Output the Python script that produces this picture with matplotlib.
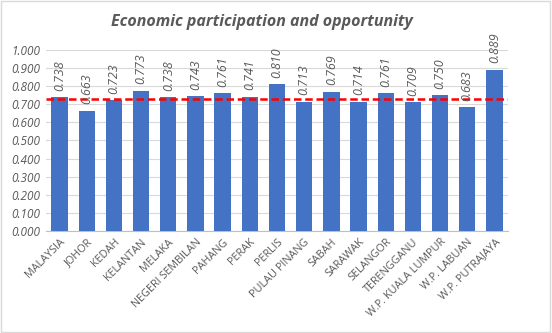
import matplotlib
matplotlib.use("Agg")
import matplotlib.pyplot as plt
from matplotlib.patches import Rectangle

categories = ["MALAYSIA", "JOHOR", "KEDAH", "KELANTAN", "MELAKA", "NEGERI SEMBILAN",
              "PAHANG", "PERAK", "PERLIS", "PULAU PINANG", "SABAH", "SARAWAK",
              "SELANGOR", "TERENGGANU", "W.P. KUALA LUMPUR", "W.P. LABUAN", "W.P. PUTRAJAYA"]
values = [0.738, 0.663, 0.723, 0.773, 0.738, 0.743, 0.761, 0.741, 0.810, 0.713,
          0.769, 0.714, 0.761, 0.709, 0.750, 0.683, 0.889]
ref_value = 0.730
yticks = [0.0, 0.1, 0.2, 0.3, 0.4, 0.5, 0.6, 0.7, 0.8, 0.9, 1.0]

plt.rcParams['font.family'] = ['Open Sans', 'DejaVu Sans']
gray = "#595959"

fig = plt.figure(figsize=(5.52, 3.33), dpi=100)
ax = fig.add_axes([46/552, 0.306, (508-46)/552, 0.851-0.306])

x = list(range(len(categories)))
ax.bar(x, values, width=0.6, color="#4472C4", zorder=3)
ax.axhline(ref_value, color="#FF0000", linestyle=(0, (3, 1.5)), linewidth=1.8, zorder=4)

for xi, v in zip(x, values):
    ax.text(xi, v + 0.035, f"{v:.3f}", rotation=90, ha="center", va="bottom",
            fontsize=9, style="italic", color=gray, zorder=5)

ax.set_xlim(-0.5, len(categories) - 0.5)
ax.set_ylim(0, 1.0)
ax.set_yticks(yticks)
ax.set_yticklabels([f"{t:.3f}" for t in yticks], fontsize=8.5, style="italic", color=gray)
ax.set_xticks(x)
ax.set_xticklabels(categories, rotation=45, ha="right", rotation_mode="anchor",
                   fontsize=7.8, color=gray)
ax.tick_params(axis="both", length=0, pad=4)
ax.grid(axis="y", color="#D9D9D9", linewidth=0.8, zorder=0)
for s in ["top", "right", "left"]:
    ax.spines[s].set_visible(False)
ax.spines["bottom"].set_color("#BFBFBF")

fig.text(262/552, 1 - 22/333, "Economic participation and opportunity", ha="center", va="center",
         fontsize=11.5, fontweight="bold", style="italic", color=gray)

fig.patches.append(Rectangle((0.002, 0.003), 0.995, 0.994, transform=fig.transFigure,
                             fill=False, edgecolor="#D9D9D9", linewidth=1))

fig.savefig("out.png", dpi=100)
